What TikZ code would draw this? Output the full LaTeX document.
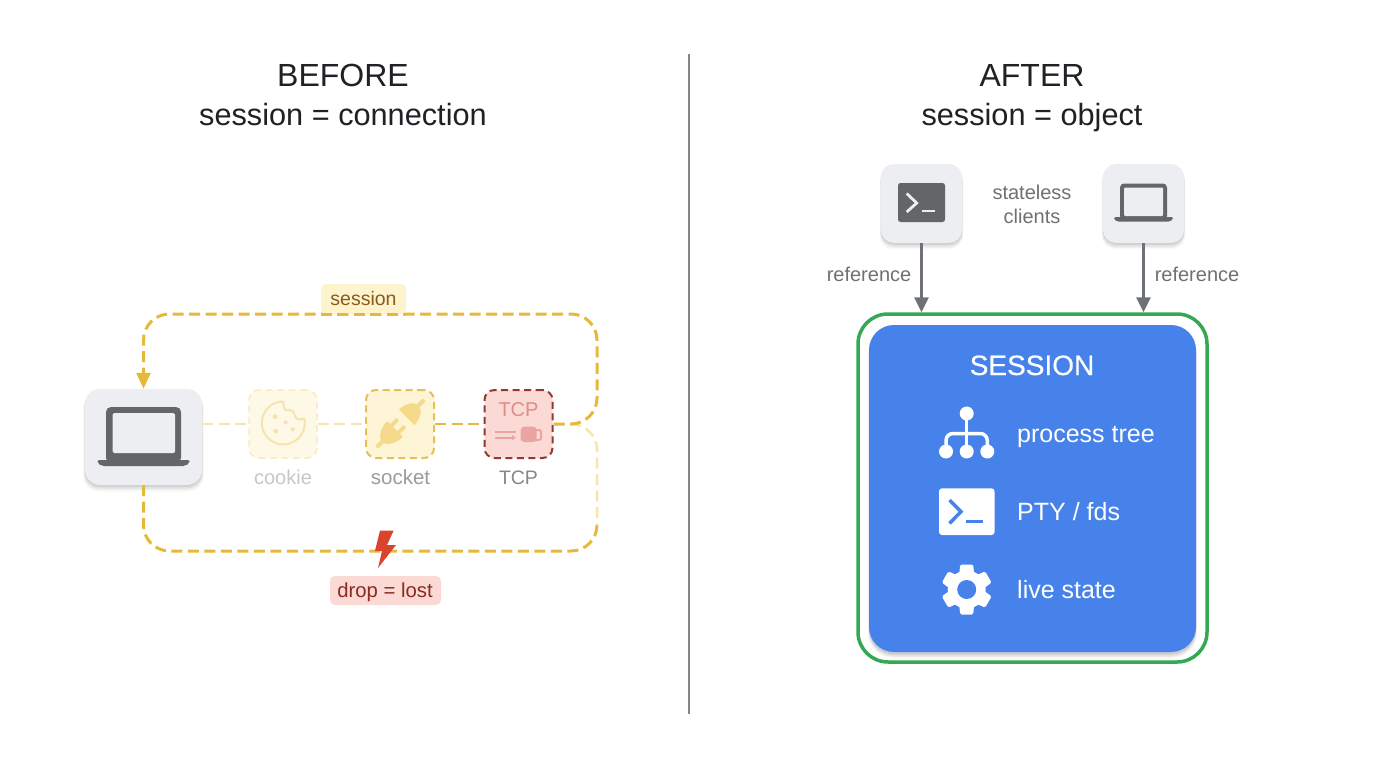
\documentclass[tikz,border=0pt]{standalone}
\usepackage{fontspec}
\setmainfont{Liberation Sans}
\newfontfamily\medf[FakeBold=0.35]{Liberation Sans}
\usetikzlibrary{arrows.meta,shadows,calc}
\definecolor{gold}{HTML}{E6B93B}
\definecolor{goldl}{HTML}{F7E5AE}
\definecolor{plugc}{HTML}{F5DA8C}
\definecolor{cookc}{HTML}{F5E4B0}
\definecolor{iconc}{HTML}{636569}
\definecolor{cardc}{HTML}{ECEEF1}
\definecolor{txtc}{HTML}{202124}
\definecolor{grayt}{HTML}{6E7175}
\definecolor{blueb}{HTML}{4682EA}
\definecolor{greenb}{HTML}{34A853}
\definecolor{redb}{HTML}{8F3A32}
\definecolor{redf}{HTML}{FBDAD6}
\definecolor{redi}{HTML}{EAA5A2}
\newcommand{\fs}[1]{\fontsize{#1}{#1}\selectfont}
\tikzset{
  softshadow/.style={
    drop shadow={shadow xshift=0pt,shadow yshift=-5pt,shadow scale=1.03,opacity=.025,fill=black},
    drop shadow={shadow xshift=0pt,shadow yshift=-4pt,shadow scale=1.02,opacity=.04,fill=black},
    drop shadow={shadow xshift=0pt,shadow yshift=-3pt,shadow scale=1.01,opacity=.06,fill=black},
    drop shadow={shadow xshift=0pt,shadow yshift=-1.5pt,opacity=.08,fill=black}},
  bigshadow/.style={
    drop shadow={shadow xshift=0pt,shadow yshift=-5pt,shadow scale=1.006,opacity=.04,fill=black},
    drop shadow={shadow xshift=0pt,shadow yshift=-4pt,shadow scale=1.003,opacity=.07,fill=black},
    drop shadow={shadow xshift=0pt,shadow yshift=-2.5pt,opacity=.10,fill=black}},
  card/.style={softshadow,fill=cardc,rounded corners=13pt,inner sep=0pt},
  pbox/.style={rounded corners=10pt,inner sep=0pt,minimum width=68pt,minimum height=68pt,dash pattern=on 7pt off 4.5pt},
  lab/.style={anchor=base,inner sep=0pt,font=\fs{20}},
  badge/.style={rounded corners=5pt,inner sep=0pt},
  title/.style={anchor=base,inner sep=0pt,text=txtc,font=\fs{32}},
  subtitle/.style={anchor=base,inner sep=0pt,text=txtc,font=\fs{30.7}},
  goldline/.style={gold,line width=3pt,dash pattern=on 11pt off 5.5pt},
  lightline/.style={goldl,line width=2.5pt,dash pattern=on 11pt off 5.5pt},
  refarrow/.style={draw=grayt,line width=3pt,-{Triangle[width=14pt,length=15pt]}},
  item/.style={anchor=base west,inner sep=0pt,text=white,font=\fs{25}},
}
\begin{document}
\begin{tikzpicture}[x=1pt,y=-1pt]
\useasboundingbox (0,0) rectangle (1376,768);
\fill[white] (0,0) rectangle (1376,768);

% divider
\coordinate (dt) at (688.5,54);
\coordinate (db) at (688.5,714);
\draw[color=grayt!85,line width=2pt] (dt) -- (db);

% titles
\node[title] (tb) at (343,86) {BEFORE};
\node[subtitle] (sb) at (343,125) {session = connection};
\node[title] (ta) at (1032,86) {AFTER};
\node[subtitle] (sa) at (1032,125) {session = object};

% BEFORE nodes
\node[card,minimum width=117pt,minimum height=96pt,rounded corners=15pt] (lap) at (143.5,437) {};
\node[pbox,fill={rgb,255:red,254;green,249;blue,230},draw={rgb,255:red,249;green,234;blue,192},line width=1.5pt] (cookie) at (283,424) {};
\node[pbox,fill={rgb,255:red,254;green,245;blue,214},draw={rgb,255:red,230;green,192;blue,86},line width=2pt] (socket) at (400,424) {};
\node[pbox,fill=redf,draw=redb,line width=2pt] (tcp) at (518.5,424) {};

% BEFORE connectors
\coordinate (jr) at (597,424);
\coordinate (tr) at (597,314);
\coordinate (tl) at (143.5,314);
\coordinate (bl) at (143.5,551);
\coordinate (br) at (597,551);
\coordinate (bm) at (597,526);
\draw[lightline,line width=2pt] (cookie.west -| lap.east) -- (cookie.west);
\draw[lightline,line width=2pt] (cookie.east) -- (socket.west);
\draw[goldline,line width=2.5pt] (socket.east) -- (tcp.west);
\draw[lightline,rounded corners=26pt] (tcp.east) -- (jr) -- (bm);
\draw[goldline,rounded corners=26pt] (lap.south) -- (bl) -- (br) -- (bm);
\draw[goldline,rounded corners=26pt,-{Triangle[width=14pt,length=16pt]}] (tcp.east) -- (jr) -- (tr) -- (tl) -- (lap.north);

% big laptop icon
\fill[iconc,rounded corners=5pt] (106,407) rectangle (181,463);
\fill[cardc,rounded corners=1.5pt] (112.7,413) rectangle (175,453);
\fill[iconc,rounded corners=2pt] (97.5,460) -- (189.5,460) -- (189.5,463) -- (185,466) -- (102,466) -- (97.5,463) -- cycle;

% cookie icon
\begin{scope}[shift={(283.3,423)},y=1pt]
  \draw[cookc,line width=2pt,line join=round] (0,21.5) arc[start angle=90,end angle=372,radius=21.5pt]
    .. controls (17,3) and (13,3) .. (11.7,7)
    .. controls (11,12) and (7,14) .. (3.5,13)
    .. controls (1,12) and (0,17) .. (0,21.5);
  \fill[cookc] (-8.3,6.3) circle[radius=2.5pt];
  \fill[cookc] (2.4,0.7) circle[radius=2pt];
  \fill[cookc] (-7.6,-8) circle[radius=2.5pt];
  \fill[cookc] (9.4,-6.3) circle[radius=2pt];
\end{scope}

% plug icon
\begin{scope}[shift={(400,424)},y=1pt,rotate=45]
  \fill[plugc] (-7,-11) -- (-7,11) .. controls (-15,11) and (-25,7) .. (-25,0) .. controls (-25,-7) and (-15,-11) .. (-7,-11) -- cycle;
  \fill[plugc] (-33,-2) rectangle (-22,2);
  \fill[plugc,rounded corners=1pt] (-8,3) rectangle (2,7);
  \fill[plugc,rounded corners=1pt] (-8,-7) rectangle (2,-3);
  \fill[plugc] (9.5,-11) -- (9.5,11) .. controls (17,11) and (26,7) .. (26,0) .. controls (26,-7) and (17,-11) .. (9.5,-11) -- cycle;
  \fill[plugc] (24,-2) rectangle (34,2);
\end{scope}

% TCP inside
\node[anchor=base,inner sep=0pt,text={rgb,255:red,223;green,140;blue,136},font=\fs{20}] (tcpt) at (518.5,416.5) {TCP};
\draw[redi,line width=1.6pt] (495,431.7) -- (516,431.7);
\draw[redi,line width=1.6pt] (495,437.7) -- (512,437.7);
\fill[redi] (512,435) -- (516,437.7) -- (512,440.4) -- cycle;
\draw[redi,line width=2pt,rounded corners=2pt] (535,430) -- (541,430) -- (541,440) -- (535,440);
\fill[redi,rounded corners=3.5pt] (520.7,426.7) rectangle (536.7,442);

% BEFORE labels
\node[lab,text=black!22] (lc) at (283,484) {cookie};
\node[lab,text=grayt!70,font=\fs{20.5}] (ls) at (400.5,484) {socket};
\node[lab,text=grayt!85,font=\fs{19.5}] (lt) at (518.5,484) {TCP};
\node[badge,fill={rgb,255:red,253;green,243;blue,204},minimum width=85pt,minimum height=30pt] (bs) at (363.5,299) {};
\draw[goldline] (bs.south west) -- (bs.south east);
\node[anchor=base,inner sep=0pt,text={rgb,255:red,138;green,90;blue,26},font=\fs{19.5}] (bst) at (363.5,305) {session};
\node[badge,fill=redf,minimum width=111pt,minimum height=29pt] (bd) at (385.5,590.5) {};
\node[anchor=base,inner sep=0pt,text={rgb,255:red,138;green,42;blue,32},font=\fs{20.3}] (bdt) at (385,597.5) {drop = lost};

% lightning
\fill[fill={rgb,255:red,217;green,68;blue,47}] (380,530.5) -- (393.7,530.5) -- (387,545) -- (396,545) -- (378,568) -- (382,551) -- (375,551) -- cycle;

% AFTER nodes
\node[card,minimum width=81pt,minimum height=79pt] (c1) at (921.5,203.5) {};
\node[card,minimum width=81pt,minimum height=79pt] (c2) at (1143.5,203.5) {};
\node[draw=greenb,line width=3.5pt,rounded corners=30pt,minimum width=349pt,minimum height=348pt,inner sep=0pt] (outer) at (1032.5,488) {};
\node[bigshadow,fill=blueb,rounded corners=25pt,minimum width=327pt,minimum height=327pt,inner sep=0pt] (sess) at (1032.5,488.5) {};

% AFTER connectors
\draw[refarrow] (c1.south) -- (c1.south |- outer.north);
\draw[refarrow] (c2.south) -- (c2.south |- outer.north);

% client icons
\fill[iconc,rounded corners=2.5pt] (898,183) rectangle (945,222);
\draw[cardc,line width=2.8pt] (906.7,193.5) -- (916.7,203) -- (906.7,212);
\draw[cardc,line width=2.5pt] (921.7,211) -- (935,211);
\fill[iconc,rounded corners=4pt] (1120,183.5) rectangle (1167,220);
\fill[cardc,rounded corners=1pt] (1124,187.5) rectangle (1163,216);
\fill[iconc,rounded corners=1.5pt] (1114,217) -- (1173,217) -- (1173,219) -- (1170,221.5) -- (1117,221.5) -- (1114,219) -- cycle;

% AFTER labels
\node[lab,text=grayt] (st) at (1032,199) {stateless};
\node[lab,text=grayt] (cl) at (1032,223) {clients};
\node[lab,text=grayt] (r1) at (869,281) {reference};
\node[lab,text=grayt] (r2) at (1197,281) {reference};
\node[anchor=base,inner sep=0pt,text=white,font=\fs{28}\medf] (stitle) at (1032,375) {SESSION};
\node[item] (i1) at (1017,442.5) {process tree};
\node[item] (i2) at (1017,520.5) {PTY / fds};
\node[item] (i3) at (1017,598.5) {live state};

% tree icon
\begin{scope}[white]
  \fill (966.7,413.5) circle[radius=7pt];
  \fill (946,451.5) circle[radius=7pt];
  \fill (966.7,451.5) circle[radius=7pt];
  \fill (987.3,451.5) circle[radius=7pt];
  \draw[line width=3.5pt] (966.7,413.5) -- (966.7,451.5);
  \draw[line width=3.5pt,rounded corners=7pt] (946,451.5) -- (946,433.5) -- (987.3,433.5) -- (987.3,451.5);
\end{scope}

% terminal icon
\fill[white,rounded corners=3pt] (939,488.3) rectangle (994.5,535);
\draw[blueb,line width=3.5pt] (949.5,500) -- (961,511.7) -- (949.5,523.3);
\draw[blueb,line width=3.5pt] (966,521.7) -- (982.5,521.7);

% gear icon
\begin{scope}[shift={(966.7,589.5)},y=1pt]
  \fill[white] (0,0) circle[radius=19pt];
  \foreach \a in {30,90,...,330}
    \fill[white,rotate=\a,rounded corners=1.5pt] (10,-8) -- (25,-6.5) -- (25,6.5) -- (10,8) -- cycle;
  \fill[blueb] (0,0) circle[radius=9.5pt];
\end{scope}
\end{tikzpicture}
\end{document}
